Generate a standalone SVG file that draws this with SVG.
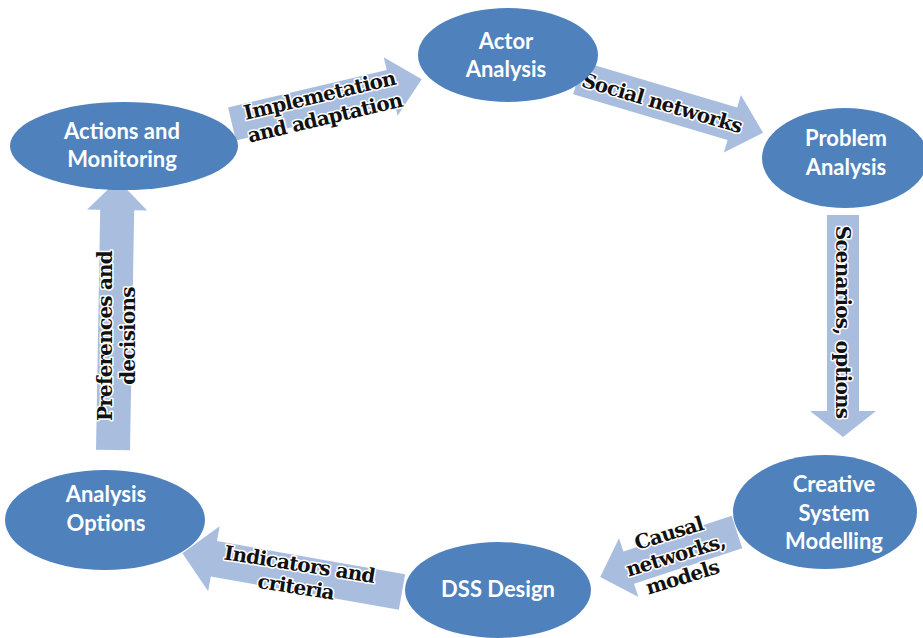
<svg xmlns="http://www.w3.org/2000/svg" width="923" height="638" viewBox="0 0 923 638">
<style>
.node{fill:#4f81bd}
.nt{fill:#ffffff;font-family:Lato,"Open Sans",sans-serif;font-weight:700;font-size:22px;text-anchor:middle}
.arr{fill:#a9bedf}
.lt{fill:#111;font-family:"DejaVu Serif",serif;font-weight:700;font-size:20px;letter-spacing:-0.8px;text-anchor:middle;stroke:#fff;stroke-width:3;paint-order:stroke;stroke-linejoin:round}
</style>
<rect width="923" height="638" fill="#fff"/>
<g id="connectors">
  <path class="arr" transform="translate(232,124) rotate(-13.3)" d="M0,-17 L163,-17 L163,-30 L195,0 L163,30 L163,17 L0,17 Z"/>
  <path class="arr" transform="translate(578,78) rotate(16.5)" d="M0,-17 L161,-17 L161,-30 L193,0 L161,30 L161,17 L0,17 Z"/>
  <path class="arr" transform="translate(843,215) rotate(90)" d="M0,-16 L196,-16 L196,-33 L222,0 L196,33 L196,16 L0,16 Z"/>
  <path class="arr" transform="translate(737,532) rotate(161.8)" d="M0,-17 L114,-17 L114,-31 L144,0 L114,31 L114,17 L0,17 Z"/>
  <path class="arr" transform="translate(402,592) rotate(190)" d="M0,-18 L191,-18 L191,-33 L223,0 L191,33 L191,18 L0,18 Z"/>
  <path class="arr" transform="translate(113,450) rotate(-89)" d="M0,-17 L240,-17 L240,-30 L270,0 L240,30 L240,17 L0,17 Z"/>
  <g transform="translate(322,106) rotate(-13.3)">
    <text class="lt" x="0" y="-4">Implemetation</text>
    <text class="lt" x="0" y="19">and adaptation</text>
  </g>
  <text class="lt" transform="translate(662,103) rotate(16.5)" x="0" y="7">Social networks</text>
  <text class="lt" transform="translate(843,322) rotate(90)" x="0" y="7">Scenarios, options</text>
  <g transform="translate(676,557) rotate(-17)">
    <text class="lt" x="0" y="-18">Causal</text>
    <text class="lt" x="0" y="5">networks,</text>
    <text class="lt" x="0" y="28">models</text>
  </g>
  <g transform="translate(298,574) rotate(9)">
    <text class="lt" x="0" y="-3">Indicators and</text>
    <text class="lt" x="0" y="20">criteria</text>
  </g>
  <g transform="translate(116,336) rotate(-90)">
    <text class="lt" x="0" y="-4">Preferences and</text>
    <text class="lt" x="0" y="19">decisions</text>
  </g>
</g>
<g id="actions">
  <ellipse class="node" cx="124" cy="146" rx="114" ry="44"/>
  <text class="nt" x="122" y="139">Actions and</text>
  <text class="nt" x="122" y="167">Monitoring</text>
</g>
<g id="actor">
  <ellipse class="node" cx="508" cy="55" rx="90" ry="47"/>
  <text class="nt" x="506" y="49">Actor</text>
  <text class="nt" x="506" y="77">Analysis</text>
</g>
<g id="problem">
  <ellipse class="node" cx="845" cy="158" rx="83" ry="50"/>
  <text class="nt" x="846" y="146">Problem</text>
  <text class="nt" x="846" y="175">Analysis</text>
</g>
<g id="creative">
  <ellipse class="node" cx="825" cy="512" rx="92" ry="57"/>
  <text class="nt" x="834" y="492">Creative</text>
  <text class="nt" x="834" y="521">System</text>
  <text class="nt" x="834" y="549">Modelling</text>
</g>
<g id="dss">
  <ellipse class="node" cx="498" cy="590" rx="93" ry="48"/>
  <text class="nt" x="498" y="597">DSS Design</text>
</g>
<g id="analysis-options">
  <ellipse class="node" cx="105" cy="520" rx="100" ry="50"/>
  <text class="nt" x="106" y="502">Analysis</text>
  <text class="nt" x="106" y="531">Options</text>
</g>
</svg>
